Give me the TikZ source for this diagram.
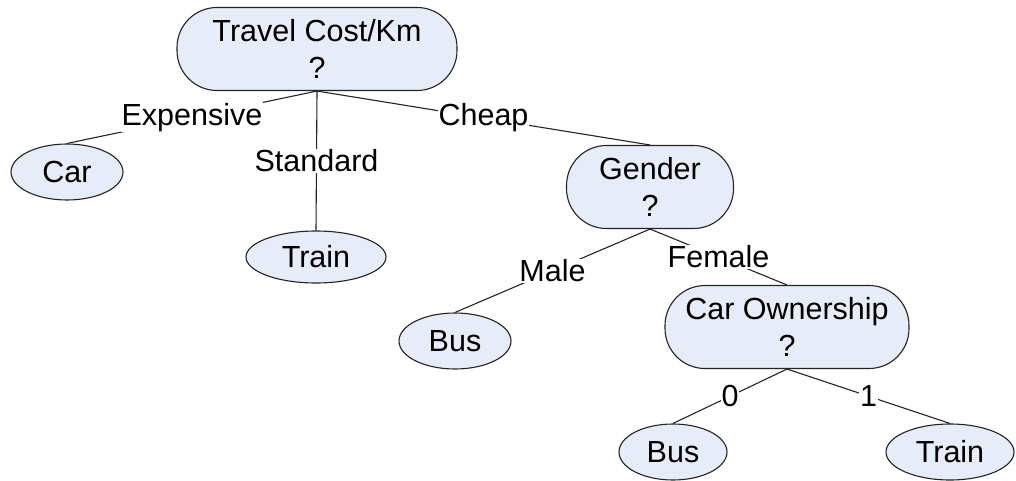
\documentclass[tikz,border=0pt]{standalone}
\usepackage{fontspec}
\setmainfont{Liberation Sans}
\usetikzlibrary{shapes.geometric}
\definecolor{nodefill}{RGB}{230,236,248}
\definecolor{edgecol}{RGB}{35,35,35}
\begin{document}
\begin{tikzpicture}[x=1pt,y=-1pt,
  every node/.style={font=\fontsize{30.5}{37}\selectfont},
  decision/.style={draw=edgecol, line width=1.1pt, fill=nodefill, rectangle,
    rounded corners=40pt, minimum height=83pt, align=center, inner sep=0pt},
  leaf/.style={draw=edgecol, line width=1.1pt, fill=nodefill, ellipse,
    minimum height=56pt, inner sep=0pt},
  edge/.style={draw=edgecol, line width=1.1pt},
  lbl/.style={fill=white, inner sep=1pt, midway}]
\useasboundingbox (0,0) rectangle (1016,481);
\node[decision, minimum width=280pt] (root) at (317,49) {Travel Cost/Km\\?};
\node[leaf, minimum width=112pt] (car) at (67,172) {Car};
\node[leaf, minimum width=140pt, minimum height=52pt] (train1) at (316,257) {Train};
\node[decision, minimum width=167pt] (gender) at (650,187) {Gender\\?};
\node[leaf, minimum width=112pt] (bus1) at (455,341) {Bus};
\node[decision, minimum width=244pt] (cown) at (787,327) {Car Ownership\\?};
\node[leaf, minimum width=108pt] (bus2) at (673,452) {Bus};
\node[leaf, minimum width=128pt] (train2) at (950,452) {Train};

\draw[edge] (root.south) -- node[lbl] {Expensive} (car.north);
\draw[edge] (root.south) -- node[lbl] {Standard} (train1.north);
\draw[edge] (root.south) -- node[lbl] {Cheap} (gender.north);
\draw[edge] (gender.south) -- node[lbl] {Male} (bus1.north);
\draw[edge] (gender.south) -- node[lbl] {Female} (cown.north);
\draw[edge] (cown.south) -- node[lbl] {0} (bus2.north);
\draw[edge] (cown.south) -- node[lbl] {1} (train2.north);
\end{tikzpicture}
\end{document}
